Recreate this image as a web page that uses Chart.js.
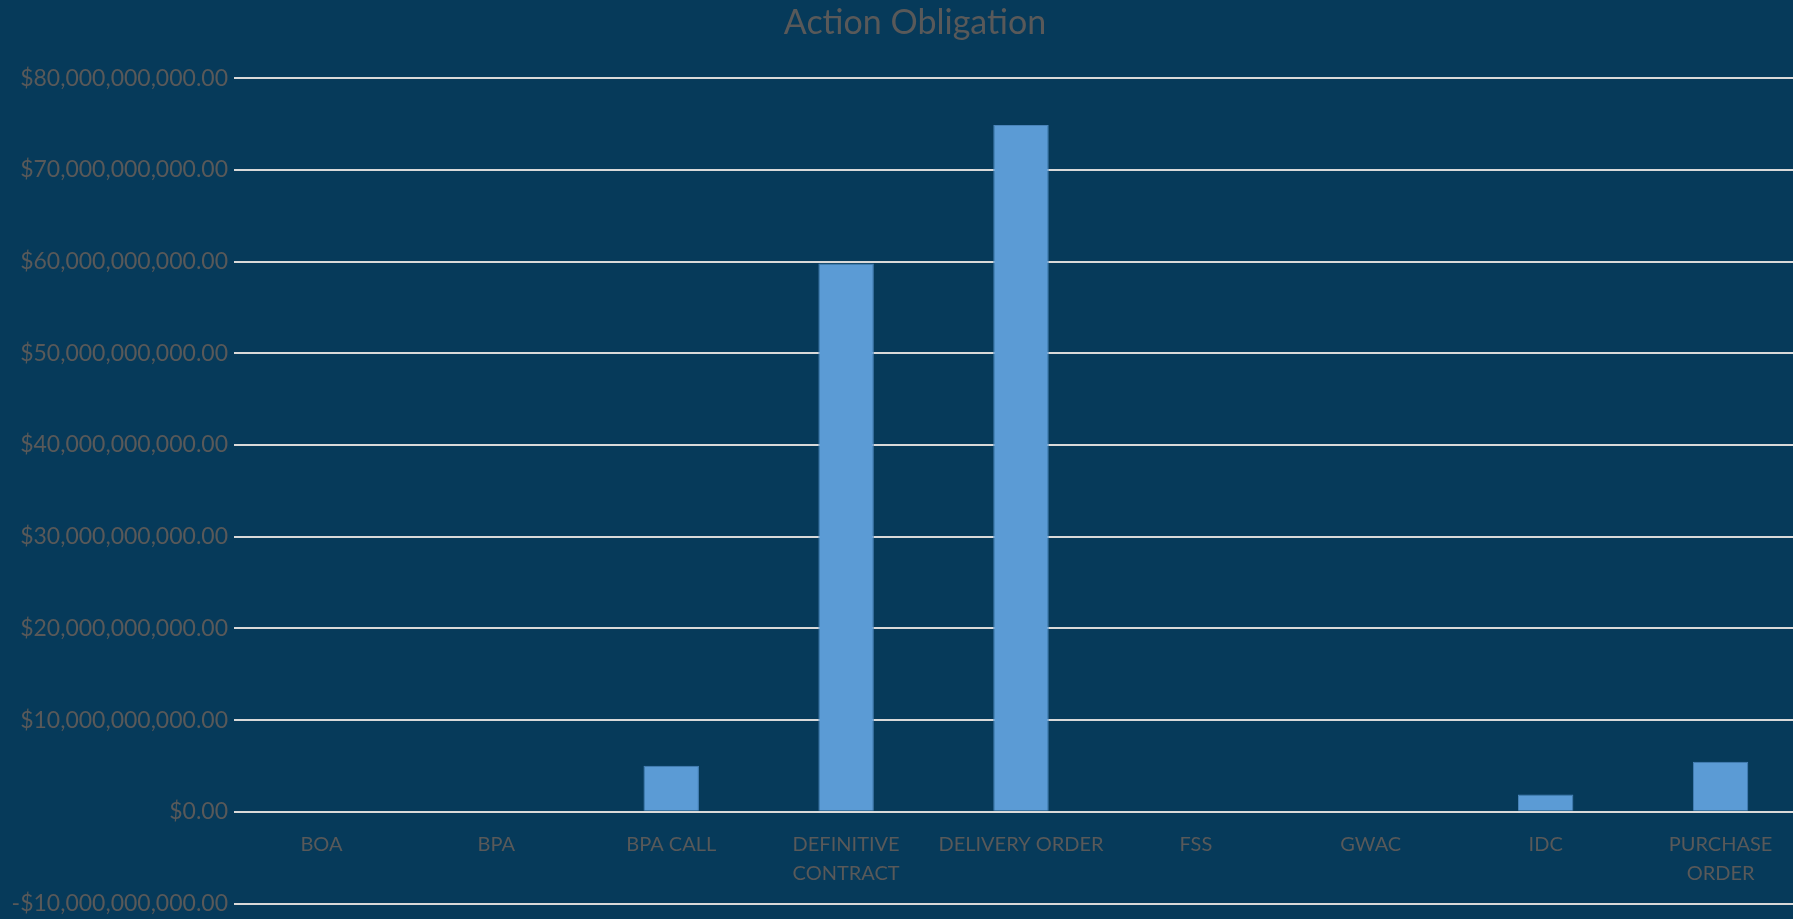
<!DOCTYPE html>
<html>
<head>
<meta charset="utf-8">
<title>Action Obligation</title>
<script src="https://cdn.jsdelivr.net/npm/chart.js@4/dist/chart.umd.min.js"></script>
<style>
    html, body { margin: 0; padding: 0; overflow: hidden; background: #063a5a; }
    #wrap { width: 1830px; height: 919px; position: relative; }
</style>
</head>
<body>
<div id="wrap"><canvas id="obligationChart"></canvas></div>
<script>
// Chart values
var categories = ['BOA', 'BPA', 'BPA CALL', ['DEFINITIVE', 'CONTRACT'], 'DELIVERY ORDER', 'FSS', 'GWAC', 'IDC', ['PURCHASE', 'ORDER']];
var obligations = [0, 0, 5.03e9, 59.8e9, 74.9e9, 0, 0, 1.9e9, 5.47e9];
var yMin = -10e9;
var yMax = 80e9;
var yStep = 10e9;

function money(v) {
    var s = '$' + Math.abs(v).toLocaleString('en-US', { minimumFractionDigits: 2, maximumFractionDigits: 2 });
    return v < 0 ? '-' + s : s;
}

var textColor = '#595959';
var fontFamily = 'Lato, "Open Sans", sans-serif';

var ctx = document.getElementById('obligationChart').getContext('2d');
var obligationChart = new Chart(ctx, {
    type: 'bar',
    data: {
        labels: categories,
        datasets: [{
            label: 'Action Obligation',
            data: obligations,
            backgroundColor: '#5b9bd5',
            borderColor: '#4a84ba',
            borderWidth: 1,
            categoryPercentage: 1,
            barPercentage: 0.317
        }]
    },
    options: {
        responsive: true,
        maintainAspectRatio: false,
        animation: false,
        layout: { padding: { top: 0, bottom: 15.5, left: 0, right: 0 } },
        plugins: {
            legend: { display: false },
            tooltip: { enabled: false },
            title: {
                display: true,
                text: 'Action Obligation',
                color: textColor,
                font: { family: fontFamily, size: 34, weight: 'normal' },
                padding: { top: 3, bottom: 34.5 }
            }
        },
        scales: {
            x: {
                position: { y: 0 },
                grid: { display: false },
                border: { display: false },
                ticks: {
                    color: textColor,
                    font: { family: fontFamily, size: 20, lineHeight: 1.42 },
                    padding: 11,
                    maxRotation: 0,
                    autoSkip: false
                }
            },
            y: {
                min: yMin,
                max: yMax,
                afterFit: function(scale) {
                    scale.width = 234;
                    scale.paddingTop = 0;
                    scale.paddingBottom = 0;
                },
                grid: { color: '#d9d9d9', lineWidth: 2, drawTicks: false },
                border: { display: false },
                ticks: {
                    stepSize: yStep,
                    color: textColor,
                    font: { family: fontFamily, size: 23 },
                    padding: 6,
                    callback: function(value) { return money(value); }
                }
            },
            // empty strip past the window edge, so the plot ends where the original's does
            yRight: {
                position: 'right',
                afterFit: function(scale) {
                    scale.width = 22;
                    scale.paddingTop = 0;
                    scale.paddingBottom = 0;
                },
                grid: { display: false },
                border: { display: false },
                ticks: { display: false }
            }
        }
    }
});
</script>
</body>
</html>
